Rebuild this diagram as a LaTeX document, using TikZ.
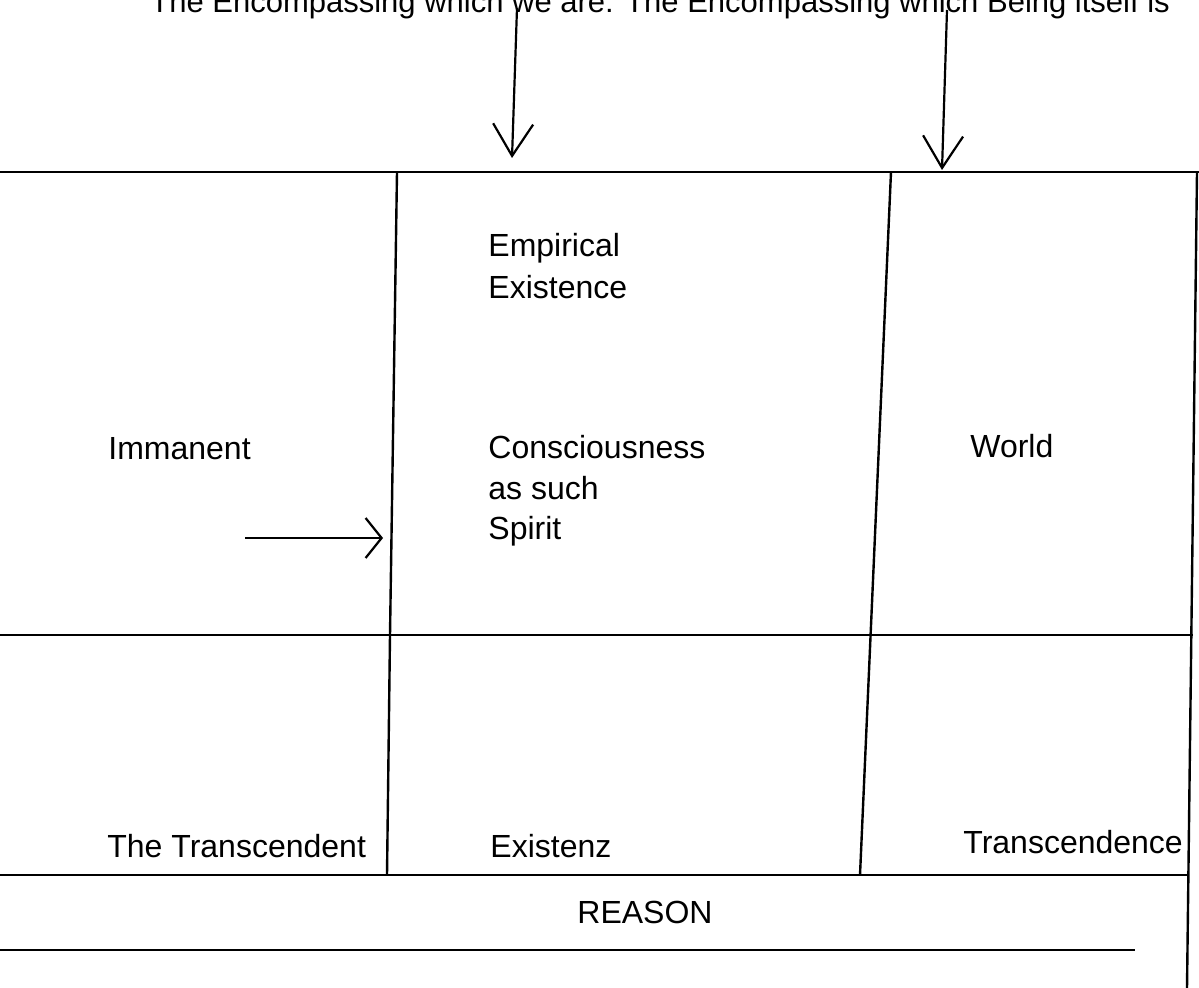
\documentclass[tikz,border=0pt]{standalone}
\usepackage{fontspec}
\setmainfont{Liberation Sans}
\usetikzlibrary{arrows.meta}
\tikzstyle{gridline}=[line width=1.2pt,draw=black]
\tikzstyle{word}=[anchor=base west,inner sep=0pt,font=\fontsize{16}{20}\selectfont]
\tikzstyle{handarrow}=[-{Straight Barb[length=16pt,width=20pt]},line width=1.1pt]

\begin{document}
\begin{tikzpicture}[x=0.5pt,y=-0.5pt]
	\useasboundingbox (0,0) rectangle (1199,988);

	% heading, cut at the top edge
	\node[word,font=\fontsize{15.5}{20}\selectfont] (title) at (150,13) {The Encompassing which we are: The Encompassing which Being itself is};

	% the table
	\draw[gridline] (0,172) -- (1199,172);
	\draw[gridline] (0,635) -- (1193,635);
	\draw[gridline] (0,875) -- (1189,875);
	\draw[gridline] (0,950) -- (1135,950);
	\draw[gridline] (397,172) -- (390,635) -- (387,875);
	\draw[gridline] (891,172) -- (860,875);
	\draw[gridline] (1197,172) -- (1187,988);

	\node[word] (empirical) at (488,257) {Empirical};
	\node[word] (existence) at (488,299) {Existence};
	\node[word] (immanent) at (108,460) {Immanent};
	\node[word] (conscious) at (488,459) {Consciousness};
	\node[word] (assuch) at (488,500) {as such};
	\node[word] (spirit) at (488,540) {Spirit};
	\node[word] (world) at (970,458) {World};
	\node[word] (transcendent) at (107,857) {The Transcendent};
	\node[word] (existenz) at (490,857) {Existenz};
	\node[word] (transcendence) at (963,853) {Transcendence};
	\node[word,anchor=base] (reason) at (645,923) {REASON};

	% hand drawn arrows
	\coordinate (topA) at (517,8);
	\coordinate (tipA) at (512,158);
	\coordinate (topB) at (947,10);
	\coordinate (tipB) at (942,170);
	\coordinate (tailC) at (245,538);
	\coordinate (tipC) at (383,538);
	\draw[handarrow] (topA) -- (tipA);
	\draw[handarrow] (topB) -- (tipB);
	\draw[handarrow,-{Straight Barb[length=8pt,width=20pt]}] (tailC) -- (tipC);
\end{tikzpicture}
\end{document}
